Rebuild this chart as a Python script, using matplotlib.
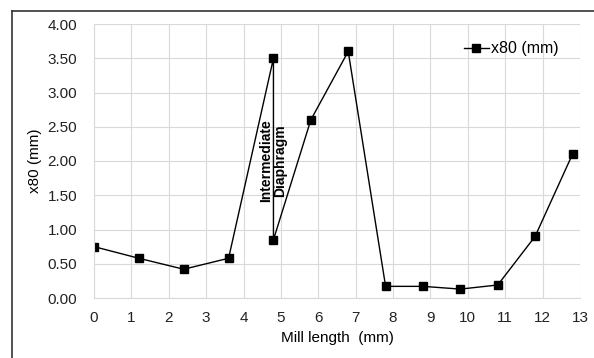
import matplotlib
matplotlib.use("Agg")
import matplotlib.pyplot as plt
from matplotlib.lines import Line2D

plt.rcParams['font.family'] = ['Liberation Sans', 'DejaVu Sans']

mill_length = [0, 1.2, 2.4, 3.6, 4.8, 4.8, 5.8, 6.8, 7.8, 8.8, 9.8, 10.8, 11.8, 12.8]
x80 = [0.75, 0.58, 0.42, 0.58, 3.50, 0.85, 2.60, 3.60, 0.17, 0.17, 0.13, 0.19, 0.90, 2.10]
x_ticks = list(range(0, 14))
y_ticks = [0, 0.5, 1.0, 1.5, 2.0, 2.5, 3.0, 3.5, 4.0]
series_label = "x80 (mm)"
annotation = "Intermediate\nDiaphragm"

fig = plt.figure(figsize=(5.94, 3.58), dpi=100)
ax = fig.add_axes([94/594, 1 - 298/358, (580-94)/594, (298-24)/358])

ax.plot(mill_length, x80, color='black', lw=1.0, marker='s', ms=6,
        markerfacecolor='black', markeredgecolor='black', label=series_label)

ax.set_xlim(0, 13)
ax.set_ylim(0, 4)
ax.set_xticks(x_ticks)
ax.set_yticks(y_ticks)
ax.set_yticklabels([f"{v:.2f}" for v in y_ticks])
ax.grid(True, color='#d9d9d9', lw=0.8)
ax.set_axisbelow(True)
for s in ['top', 'right']:
    ax.spines[s].set_visible(False)
for s in ['left', 'bottom']:
    ax.spines[s].set_color('#d9d9d9')
ax.tick_params(length=0, labelsize=11, colors='#222222')
ax.tick_params(axis='y', pad=12)
ax.tick_params(axis='x', pad=9)
ax.set_xlabel("Mill length  (mm)", fontsize=11, labelpad=5)
ax.set_ylabel("x80 (mm)", fontsize=11, labelpad=4)

ax.text(4.8, 2.0, annotation, rotation=90, ha='center', va='center',
        fontsize=10, fontweight='bold', linespacing=1.0)

leg = ax.legend(loc='upper right', frameon=False, fontsize=11.5,
                handlelength=1.6, handletextpad=0.1, bbox_to_anchor=(0.985, 0.99))

# figure border (left and top)
fig.add_artist(Line2D([12/594, 12/594], [0, 1 - 11/358], color='#333333', lw=1.2, transform=fig.transFigure))
fig.add_artist(Line2D([12/594, 1], [1 - 11/358, 1 - 11/358], color='#333333', lw=1.2, transform=fig.transFigure))

fig.savefig("out.png", dpi=100)
